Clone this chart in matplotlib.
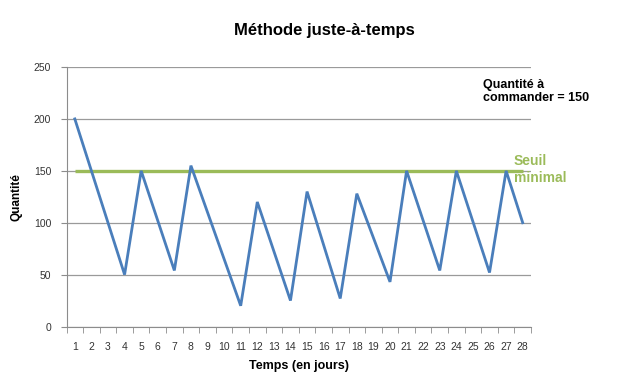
import matplotlib.pyplot as plt
from matplotlib.ticker import FixedLocator

# vertices of the stock curve (day, quantity)
days = [1, 4, 5, 7, 8, 11, 12, 14, 15, 17, 18, 20, 21, 23, 24, 26, 27, 28]
quantity = [200, 50, 150, 54, 155, 20, 120, 25, 130, 27, 128, 43, 150, 54, 150, 52, 150, 100]

seuil_days = [1, 28]
seuil = [150, 150]

day_labels = [str(d) for d in range(1, 29)]
y_ticks = [0, 50, 100, 150, 200, 250]

plt.rcParams["font.family"] = ["Liberation Sans", "DejaVu Sans"]

fig = plt.figure(figsize=(6.36, 3.78), dpi=100)
ax = fig.add_axes([0.1046, 0.1362, 0.7303, 0.6865])

ax.plot(seuil_days, seuil, color="#9BBB59", lw=2.4, solid_capstyle="butt", zorder=2)
ax.plot(days, quantity, color="#4A7EBB", lw=2.0, solid_joinstyle="miter", zorder=3)

ax.set_xlim(0.5, 28.5)
ax.set_ylim(0, 250)
ax.set_yticks(y_ticks)
ax.yaxis.grid(True, color="#9a9a9a", lw=0.9)
ax.set_axisbelow(True)

ax.set_xticks(range(1, 29))
ax.set_xticklabels(day_labels, fontsize=7.5, color="#333333")
ax.tick_params(axis="x", length=0, pad=11)
ax.xaxis.set_minor_locator(FixedLocator([i + 0.5 for i in range(0, 29)]))
ax.tick_params(axis="x", which="minor", length=4, color="#8c8c8c", direction="out")
ax.tick_params(axis="y", length=4, color="#8c8c8c", labelsize=7.5, labelcolor="#333333", pad=7)

for side in ["top", "right"]:
    ax.spines[side].set_visible(False)
for side in ["left", "bottom"]:
    ax.spines[side].set_color("#8c8c8c")

ax.set_xlabel("Temps (en jours)", fontsize=9, fontweight="bold", labelpad=6)
ax.set_ylabel("Quantité", fontsize=8.5, fontweight="bold", labelpad=8)

fig.text(0.51, 0.918, "Méthode juste-à-temps", ha="center", va="center",
         fontsize=12, fontweight="bold")
fig.text(0.759, 0.758, "Quantité à\ncommander = 150", ha="left", va="center",
         fontsize=9, fontweight="bold", linespacing=1.2)
fig.text(0.808, 0.551, "Seuil\nminimal", ha="left", va="center",
         fontsize=10, fontweight="bold", color="#9BBB59", linespacing=1.25)

fig.savefig("out.png", dpi=100)
